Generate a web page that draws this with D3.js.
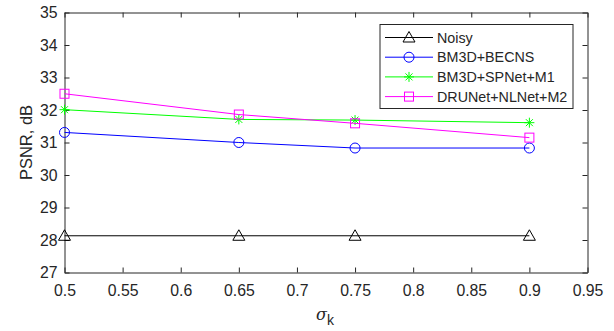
<!DOCTYPE html>
<html>
<head>
<meta charset="utf-8">
<script src="https://cdn.jsdelivr.net/npm/d3@7"></script>
<style>
  body { margin: 0; background: #fff; }
  svg text { font-family: "Liberation Sans", Arial, sans-serif; fill: #262626; }
</style>
</head>
<body>
<svg id="chart" width="614" height="331"></svg>
<script>
var sigma = [0.5, 0.65, 0.75, 0.9];
var noisy = [28.13, 28.13, 28.13, 28.13];
var becns = [31.31, 31.0, 30.83, 30.83];
var spnet = [32.01, 31.71, 31.69, 31.61];
var drunet = [32.5, 31.86, 31.59, 31.15];
var xTicks = [0.5, 0.55, 0.6, 0.65, 0.7, 0.75, 0.8, 0.85, 0.9, 0.95];
var yTicks = [27, 28, 29, 30, 31, 32, 33, 34, 35];

var series = [
    { name: 'Noisy', values: noisy, color: '#000000', marker: 'triangle' },
    { name: 'BM3D+BECNS', values: becns, color: '#0000ff', marker: 'circle' },
    { name: 'BM3D+SPNet+M1', values: spnet, color: '#00ff00', marker: 'star' },
    { name: 'DRUNet+NLNet+M2', values: drunet, color: '#ff00ff', marker: 'square' }
];

var svg = d3.select('#chart');
var plotL = 64.5, plotR = 587.5, plotT = 12.5, plotB = 272.5;

var x = d3.scaleLinear().domain([0.5, 0.95]).range([plotL, plotR]);
var y = d3.scaleLinear().domain([27, 35]).range([plotB, plotT]);

var axisColor = '#262626';

// axes with inward ticks
var xAxis = d3.axisBottom(x).tickValues(xTicks).tickSizeInner(-5).tickSizeOuter(0)
    .tickPadding(12).tickFormat(d3.format('~g'));
var yAxis = d3.axisLeft(y).tickValues(yTicks).tickSizeInner(-5).tickSizeOuter(0)
    .tickPadding(7);

var gx = svg.append('g').attr('transform', `translate(0 ${plotB})`).call(xAxis);
var gy = svg.append('g').attr('transform', `translate(${plotL} 0)`).call(yAxis);
var gxt = svg.append('g').attr('transform', `translate(0 ${plotT})`)
    .call(d3.axisTop(x).tickValues(xTicks).tickSizeInner(-5).tickSizeOuter(0).tickFormat(''));
var gyr = svg.append('g').attr('transform', `translate(${plotR} 0)`)
    .call(d3.axisRight(y).tickValues(yTicks).tickSizeInner(-5).tickSizeOuter(0).tickFormat(''));

[gx, gy, gxt, gyr].forEach(g => {
    g.select('.domain').attr('stroke', axisColor);
    g.selectAll('.tick line').attr('stroke', axisColor);
    g.selectAll('.tick text').attr('font-size', 15.8).attr('fill', axisColor)
        .attr('font-family', '"Liberation Sans", Arial, sans-serif');
});

// axis labels
svg.append('text')
    .attr('transform', `translate(31.5 ${(plotT + plotB) / 2}) rotate(-90)`)
    .attr('text-anchor', 'middle')
    .attr('font-size', 16.5)
    .text('PSNR, dB');

var xl = svg.append('text')
    .attr('x', 325).attr('y', 320)
    .attr('text-anchor', 'middle')
    .attr('font-size', 16);
xl.append('tspan').attr('font-family', '"DejaVu Serif", serif').attr('font-style', 'italic').text('σ');
xl.append('tspan').attr('dy', 5).attr('font-size', 14).text('k');

// markers
function drawMarker(g, type, cx, cy, color) {
    if (type === 'triangle') {
        g.append('path')
            .attr('d', `M${cx},${cy - 6}L${cx + 6},${cy + 4.5}L${cx - 6},${cy + 4.5}Z`)
            .attr('fill', 'none').attr('stroke', color);
    } else if (type === 'circle') {
        g.append('circle').attr('cx', cx).attr('cy', cy).attr('r', 5)
            .attr('fill', 'none').attr('stroke', color);
    } else if (type === 'square') {
        g.append('rect').attr('x', cx - 4.5).attr('y', cy - 4.5)
            .attr('width', 9).attr('height', 9)
            .attr('fill', 'none').attr('stroke', color);
    } else if (type === 'star') {
        var r = 5, d = r * 0.7;
        g.append('path')
            .attr('d', `M${cx - r},${cy}L${cx + r},${cy}M${cx},${cy - r}L${cx},${cy + r}` +
                `M${cx - d},${cy - d}L${cx + d},${cy + d}M${cx - d},${cy + d}L${cx + d},${cy - d}`)
            .attr('stroke', color).attr('fill', 'none');
    }
}

var line = d3.line().x(d => x(d[0])).y(d => y(d[1]));

series.forEach(s => {
    var pts = sigma.map((v, i) => [v, s.values[i]]);
    var g = svg.append('g');
    g.append('path').attr('d', line(pts))
        .attr('fill', 'none').attr('stroke', s.color).attr('stroke-width', 1);
    pts.forEach(p => drawMarker(g, s.marker, x(p[0]), y(p[1]), s.color));
});

// legend
var leg = svg.append('g');
leg.append('rect')
    .attr('x', 380).attr('y', 24.5).attr('width', 193).attr('height', 84)
    .attr('fill', '#fff').attr('stroke', axisColor);
series.forEach((s, i) => {
    var ly = 37.5 + i * 19.7;
    leg.append('line').attr('x1', 385).attr('x2', 433).attr('y1', ly).attr('y2', ly)
        .attr('stroke', s.color);
    drawMarker(leg, s.marker, 409, ly, s.color);
    leg.append('text').attr('x', 437).attr('y', ly + 5.2)
        .attr('font-size', 14.3).attr('fill', '#000').text(s.name);
});
</script>
</body>
</html>
